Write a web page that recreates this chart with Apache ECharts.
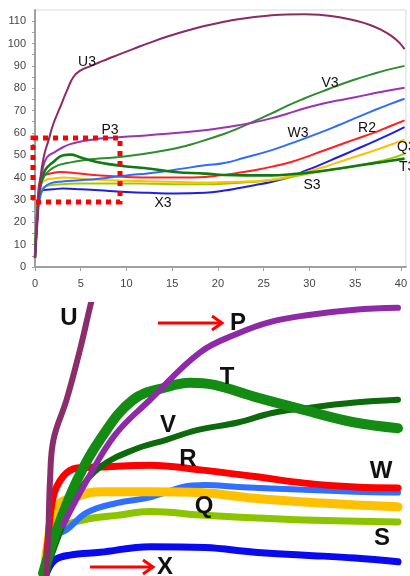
<!DOCTYPE html>
<html><head><meta charset="utf-8">
<script src="https://cdn.jsdelivr.net/npm/echarts@6/dist/echarts.min.js"></script>
<style>html,body{margin:0;padding:0;background:#fff}#c{width:410px;height:576px}</style>
</head><body><div id="c"></div>
<script>
// ---- main chart data: [x, y] ----
const xTicks = [0,5,10,15,20,25,30,35,40];
const yTicks = [0,10,20,30,40,50,60,70,80,90,100,110];
const U3 = [[0,4],[0.3,22],[0.6,40],[1.0,50],[1.5,57],[2.0,64],[2.75,71.5],[3.5,79],[4.2,85],[5,88],[6,89.8],[7,91.5],[8,93.2],[9,94.8],[10.7,97.5],[12.5,100.3],[14.4,103],[16.5,105.6],[18.5,107.8],[20.5,109.6],[22.2,110.9],[24,111.9],[25.8,112.6],[27.5,113],[29.5,113.1],[31.5,112.7],[33.1,111.9],[35,110.3],[36.7,108.2],[38,105.8],[39,103.3],[39.8,100.5],[40.4,97.5]];
const P3 = [[0,4],[0.3,26],[0.5,36],[0.8,43],[1.3,49],[2.2,51.5],[3.1,53.7],[3.85,55],[4.9,56],[6,56.8],[7.1,57.5],[8.9,58],[10.7,58.5],[14.4,59.6],[18,61],[20.5,62.3],[22.2,63.4],[24,64.8],[25.8,66.5],[27.5,68.5],[29.5,71],[31.3,72.9],[33.1,74.5],[35,76],[36.7,77.4],[38.5,78.9],[40.4,80.2]];
const V3 = [[0,4],[0.3,26],[0.6,36],[1.0,40.5],[1.67,43.5],[2.5,45.5],[3.5,46.5],[5.3,47.8],[7,48.5],[9.3,49.2],[12.5,51],[15.3,53],[18,56],[20.5,59.3],[22.2,62],[24,65.3],[25.8,68.6],[27.5,72],[29.5,75.5],[31.5,78.7],[33.1,81.2],[34.9,83.8],[36.7,86.1],[38.5,88.2],[40.4,90]];
const T3 = [[0,4],[0.3,27],[0.6,37],[1.1,43.3],[2,47],[3.1,50],[3.85,50.3],[5,49],[6.75,47],[8.5,45.8],[10,45],[12.6,44],[15.3,42.5],[18.6,41.8],[20.7,41.2],[23,41],[25.8,41],[28,41.5],[30.5,42.5],[33.1,44],[35.5,45.5],[38,47],[40.4,48.5]];
const W3 = [[0,4],[0.3,25],[0.6,32],[1.0,35.5],[1.67,37.4],[3,38.3],[4.9,38.8],[7,39.5],[10,41],[12.5,42],[15.3,43.5],[18.6,45.5],[20.7,46.5],[23,49],[25.8,52.2],[28,55.3],[31.1,60],[33.1,63.3],[35,66.6],[37,70],[38.8,72.9],[40.4,75.3]];
const R2 = [[0,4],[0.3,30],[0.58,39.6],[1.0,41],[1.67,41.8],[2.76,42.5],[4.9,41.8],[7,41],[10,40.3],[13,40],[16,40],[18.6,40.3],[20.2,41],[22,42],[23.8,43.2],[25.8,44.8],[28,47],[30.5,50.5],[32.5,53.5],[34.9,57],[37,60],[38.8,63],[40.4,65.6]];
const Q3 = [[0,4],[0.3,28],[0.6,36],[1.1,38.8],[2,39.6],[3.1,40],[5,39.5],[7,39],[10,38.6],[13,38.3],[16,38],[18.6,37.8],[21,38],[23.5,38.4],[25.8,39],[28,40.8],[29.5,42.3],[31.5,44.6],[33.1,46.8],[34.9,49.2],[37,52],[38.8,54.6],[40.4,57]];
const S3 = [[0,4],[0.3,27],[0.6,34],[1.0,35.8],[1.67,36.6],[3,37],[4.9,37.4],[7,37.4],[10,37.4],[13,37.2],[16,37],[18.6,37],[21,37.4],[23.5,38],[25.8,38.8],[28,40.2],[29.5,41.5],[31.5,43],[33.1,44],[34.9,45],[37,46.8],[38.8,48.5],[40.4,50.6]];
const X3 = [[0,4],[0.2,18],[0.4,31],[0.7,33.8],[0.94,34.4],[2,34.8],[3.1,35.1],[5,34.8],[7,34.3],[10,33.6],[12.5,33.2],[15.3,32.9],[18.6,33.2],[20.7,34.2],[22.5,35.5],[24,36.6],[25.8,38],[28,40.5],[29.5,43],[31.1,45.6],[33.1,49.1],[34.9,52.3],[37.4,56.8],[39,59.8],[40.4,62.6]];

// ---- magnified inset data (region x 0..9.3, y 29..57.6) ----
const zU = [[0.17,29.0],[0.22,33.9],[0.26,39.1],[0.35,43.4],[0.69,47.6],[1.04,52.9],[1.3,57.4],[1.4,59]];
const zP = [[0.60,34.4],[1.22,39.1],[1.95,43.9],[2.86,47.6],[4.16,52.6],[5.14,54.6],[5.97,55.8],[6.88,56.5],[8.18,57.1],[9.3,57.3]];
const zT = [[0.08,29.3],[0.44,33.9],[0.96,39.1],[1.56,43.4],[2.42,47.6],[3.3,48.95],[3.9,49.4],[4.5,49.2],[5.58,47.9],[6.88,46.5],[8.18,45.2],[9.3,44.6]];
const zV = [[0.2,29.5],[0.26,30.7],[0.65,34.9],[1.04,38.1],[1.56,40.5],[2.42,42.3],[3.3,43.4],[4.08,44.4],[5.14,45.2],[6.03,46.2],[6.88,46.7],[8.18,47.3],[9.3,47.6]];
const zR = [[0.13,29.0],[0.21,32.8],[0.34,37.3],[0.6,39.5],[0.96,40.4],[1.56,40.5],[2.86,40.7],[4.16,40.2],[5.58,39.5],[6.88,38.8],[8.18,38.4],[9.3,38.3]];
const zW = [[0.15,29.0],[0.26,32.8],[0.70,33.9],[1.22,35.7],[2.0,36.7],[2.86,37.3],[3.71,38.4],[4.29,38.6],[5.14,38.4],[6.88,38.1],[8.18,37.9],[9.3,37.8]];
const zQ = [[0.12,29.0],[0.18,31.8],[0.44,36.3],[0.96,37.4],[1.56,37.9],[2.86,37.9],[4.16,37.8],[5.58,37.2],[6.88,36.8],[8.18,36.5],[9.3,36.3]];
const zS = [[0.14,29.0],[0.21,31.2],[0.52,33.9],[1.12,34.9],[2.0,35.4],[2.86,35.8],[4.29,35.4],[6.88,34.9],[9.3,34.7]];
const zX = [[0.14,28.5],[0.18,29.4],[0.39,30.7],[0.78,31.2],[1.56,31.5],[2.86,32.1],[4.29,32.0],[5.58,31.5],[6.88,31.2],[8.18,30.9],[9.3,30.5]];

const chart = echarts.init(document.getElementById('c'), null, {renderer:'canvas'});
const FONT = 'Liberation Sans, Arial, sans-serif';

function mainLine(name, data, color, w){
  return {name, type:'line', xAxisIndex:0, yAxisIndex:0, data, showSymbol:false, symbol:'none',
    smooth:0.5, lineStyle:{color, width:w||2, join:'round'}, silent:true, z:3};
}
function zoomLine(name, data, color, w){
  return {name, type:'line', xAxisIndex:1, yAxisIndex:1, data, showSymbol:false, symbol:'none',
    smooth:0.4, lineStyle:{color, width:w, cap:'round', join:'round'}, silent:true, z:3};
}
function lbl(text, x, y, size, bold, align){
  return {type:'text', x, y, z:100, style:{text, font:(bold?'bold ':'')+size+'px '+FONT, fill:'#111',
    align:align||'center', verticalAlign:'middle', textAlign:align||'center', textVerticalAlign:'middle'}};
}

const option = {
  backgroundColor:'#fff',
  animation:false,
  grid:[
    {left:35, top:10, width:372, height:257, show:true, borderColor:'#d9d9d9', borderWidth:1},
    {left:40, top:305, width:358, height:271, show:false}
  ],
  xAxis:[
    {type:'value', gridIndex:0, min:0, max:40.55, interval:5,
     axisLine:{lineStyle:{color:'#a0a0a0', width:2}},
     axisTick:{show:true, customValues:xTicks, length:4, lineStyle:{color:'#a0a0a0'}},
     axisLabel:{customValues:xTicks, color:'#444', fontSize:11, fontFamily:FONT, margin:11},
     splitLine:{show:false}},
    {type:'value', gridIndex:1, min:0, max:9.3, show:false, splitLine:{show:false}}
  ],
  yAxis:[
    {type:'value', gridIndex:0, min:0, max:115, interval:10,
     axisLine:{show:true, lineStyle:{color:'#a0a0a0', width:2}},
     axisTick:{show:true, customValues:[0,5,10,15,20,25,30,35,40,45,50,55,60,65,70,75,80,85,90,95,100,105,110], length:3, lineStyle:{color:'#a0a0a0'}},
     axisLabel:{customValues:yTicks, color:'#444', fontSize:11, fontFamily:FONT, margin:9},
     splitLine:{show:false}},
    {type:'value', gridIndex:1, min:29, max:57.6, show:false, splitLine:{show:false}}
  ],
  series:[
    mainLine('X3', X3, '#1f1fe0'),
    mainLine('S3', S3, '#99cc00'),
    mainLine('Q3', Q3, '#ffc000'),
    mainLine('R2', R2, '#ff2020'),
    mainLine('W3', W3, '#2f6bff'),
    mainLine('V3', V3, '#2e8b2e'),
    mainLine('T3', T3, '#107a10', 2.6),
    mainLine('P3', P3, '#9b33b3'),
    mainLine('U3', U3, '#8e2a62'),
    zoomLine('X', zX, '#0a0af0', 7),
    zoomLine('S', zS, '#8cc400', 7),
    zoomLine('W', zW, '#2f70ff', 6),
    zoomLine('Q', zQ, '#ffc000', 9),
    zoomLine('R', zR, '#ff0000', 7),
    zoomLine('V', zV, '#0c6a0c', 6),
    zoomLine('T', zT, '#148c14', 10),
    zoomLine('P', zP, '#8e2aa8', 6),
    zoomLine('U', zU, '#8b2d6b', 6)
  ],
  graphic:[
    {type:'rect', z:50, shape:{x:33, y:138, width:87, height:64},
     style:{fill:'none', stroke:'#ff0000', lineWidth:5, lineDash:[5,5]}},
    lbl('U3', 87, 62, 14, false),
    lbl('P3', 110, 130, 14, false),
    lbl('V3', 330, 83, 14, false),
    lbl('W3', 298, 133, 14, false),
    lbl('R2', 367, 128, 14, false),
    lbl('Q3', 397, 147, 14, false, 'left'),
    lbl('T3', 399, 167, 14, false, 'left'),
    lbl('S3', 312, 185, 14, false),
    lbl('X3', 163, 203, 14, false),
    lbl('U', 69, 318, 24, true),
    lbl('P', 238, 323, 24, true),
    lbl('T', 227, 377, 24, true),
    lbl('V', 168, 425, 24, true),
    lbl('R', 188, 459, 24, true),
    lbl('W', 381, 471, 24, true),
    lbl('Q', 204, 506, 24, true),
    lbl('S', 382, 538, 24, true),
    lbl('X', 165, 567, 24, true),
    {type:'line', z:60, shape:{x1:158, y1:323, x2:221, y2:323}, style:{stroke:'#ff0000', lineWidth:3}},
    {type:'polyline', z:60, shape:{points:[[212,316],[222,323],[212,330]]}, style:{stroke:'#ff0000', lineWidth:3, fill:'none'}},
    {type:'line', z:60, shape:{x1:90, y1:567, x2:152, y2:567}, style:{stroke:'#ff0000', lineWidth:3}},
    {type:'polyline', z:60, shape:{points:[[143,560],[153,567],[143,574]]}, style:{stroke:'#ff0000', lineWidth:3, fill:'none'}}
  ]
};
chart.setOption(option);
</script>
</body></html>
